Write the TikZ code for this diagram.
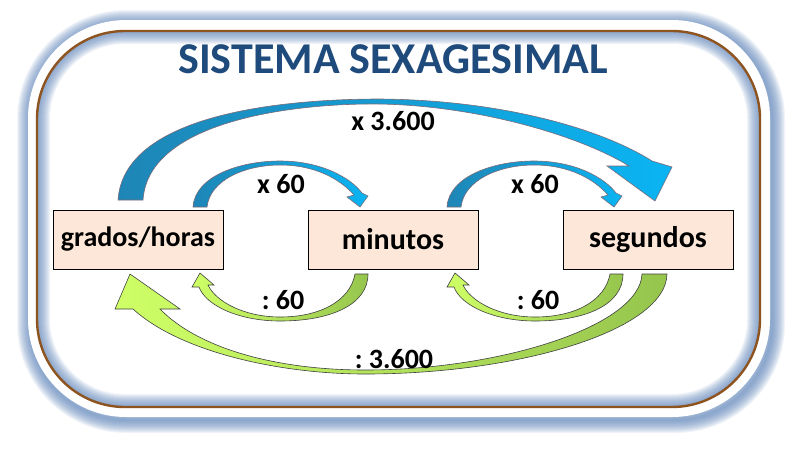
\documentclass[tikz,border=0pt]{standalone}
\usepackage{fontspec}
\setmainfont{Carlito}
\frenchspacing
\definecolor{titleblue}{HTML}{1F4A7C}
\definecolor{boxfill}{HTML}{FCE7D8}
\definecolor{bluedark}{HTML}{1E86B6}
\definecolor{bluelight}{HTML}{0AB4F2}
\definecolor{greenlight}{HTML}{CFFF66}
\definecolor{greendark}{HTML}{96C54E}
\definecolor{arrowline}{HTML}{7A6A78}
\definecolor{framebrown}{HTML}{8E5420}
\definecolor{glowblue}{HTML}{5F86BC}
\begin{document}
\begin{tikzpicture}[x=1pt,y=-1pt]
\tikzset{
 unitbox/.style={draw=black, line width=0.8pt, fill=boxfill, minimum width=170pt, minimum height=59pt, inner sep=0pt, font=\bfseries\fontsize{30}{30}\selectfont},
 lbl/.style={font=\bfseries\fontsize{28}{28}\selectfont, inner sep=0pt},
 bluearrow/.style={left color=bluedark, right color=bluelight, draw=arrowline, line width=0.6pt},
 greenarrow/.style={left color=greenlight, right color=greendark, draw=black!75, line width=0.6pt},
 glowline/.style={draw=glowblue, opacity=0.085}
}
\useasboundingbox (0,0) rectangle (799,456);
\fill[white] (0,0) rectangle (799,456);
% outer glow
\foreach \w in {2,4,...,26}
  \draw[glowline, line width=\w pt, rounded corners=96pt] (30,23) rectangle (772,420);
% white band
\fill[white, rounded corners=98pt] (28,20) rectangle (770,417);
% inner glow
\begin{scope}
  \clip[rounded corners=88pt] (37,31) rectangle (760,407);
  \fill[white] (37,31) rectangle (760,407);
  \foreach \w in {2,4,...,26}
    \draw[glowline, line width=\w pt, rounded corners=88pt] (37,31) rectangle (760,407);
\end{scope}
\draw[framebrown, line width=2.4pt, rounded corners=88pt] (37,31) rectangle (760,407);

% title
\node[font=\bfseries\fontsize{44}{44}\selectfont, text=titleblue, inner sep=0pt] (title) at (393,59) {SISTEMA SEXAGESIMAL};

% boxes
\node[unitbox, font=\bfseries\fontsize{28}{28}\selectfont] (grados) at (138,239.5) {grados/horas};
\node[unitbox] (minutos) at (393,239.5) {minutos};
\node[unitbox] (segundos) at (648,239.5) {segundos};

% big blue arrow x 3.600
\path[bluearrow] (118,200) .. controls (124,112) and (290,99) .. (380,99)
  .. controls (500,100) and (600,128) .. (652,161)
  -- (672,167) -- (655,201) -- (607,166) -- (629,166)
  .. controls (580,136) and (480,106) .. (380,104)
  .. controls (290,103) and (148,122) .. (143,200) -- cycle;

% small blue arrows x 60
\foreach \dx in {0,254} {
\path[bluearrow, xshift=\dx] (193,207) .. controls (195,176) and (240,161) .. (280,161)
  .. controls (320,161) and (350,177) .. (362,193)
  -- (368,196) -- (360,207) -- (347,197) -- (354,195)
  .. controls (340,179) and (315,165) .. (280,165)
  .. controls (245,165) and (210,180) .. (207,207) -- cycle;
}

% small green arrows : 60
\foreach \dx in {0,255} {
\path[greenarrow, xshift=\dx] (355,274) .. controls (350,301) and (320,317) .. (280,317)
  .. controls (245,317) and (216,302) .. (208,285)
  -- (214,285) -- (200,273) -- (192,287) -- (199,287)
  .. controls (206,306) and (240,321) .. (280,321)
  .. controls (330,321) and (368,305) .. (368,274) -- cycle;
}

% big green arrow : 3.600
\path[greenarrow] (642,274) .. controls (640,326) and (500,370) .. (365,370)
  .. controls (280,370) and (200,350) .. (160,309)
  -- (180,309) -- (130,274) -- (115,309) -- (133,309)
  .. controls (180,352) and (280,374) .. (365,374)
  .. controls (520,374) and (666,330) .. (667,274) -- cycle;

% labels
\node[lbl] (l1) at (393,121) {x 3.600};
\node[lbl] (l2) at (281,184) {x 60};
\node[lbl] (l3) at (535,184) {x 60};
\node[lbl] (l4) at (283,300) {: 60};
\node[lbl] (l5) at (538,300) {: 60};
\node[lbl] (l6) at (394,359) {: 3.600};
\end{tikzpicture}
\end{document}
